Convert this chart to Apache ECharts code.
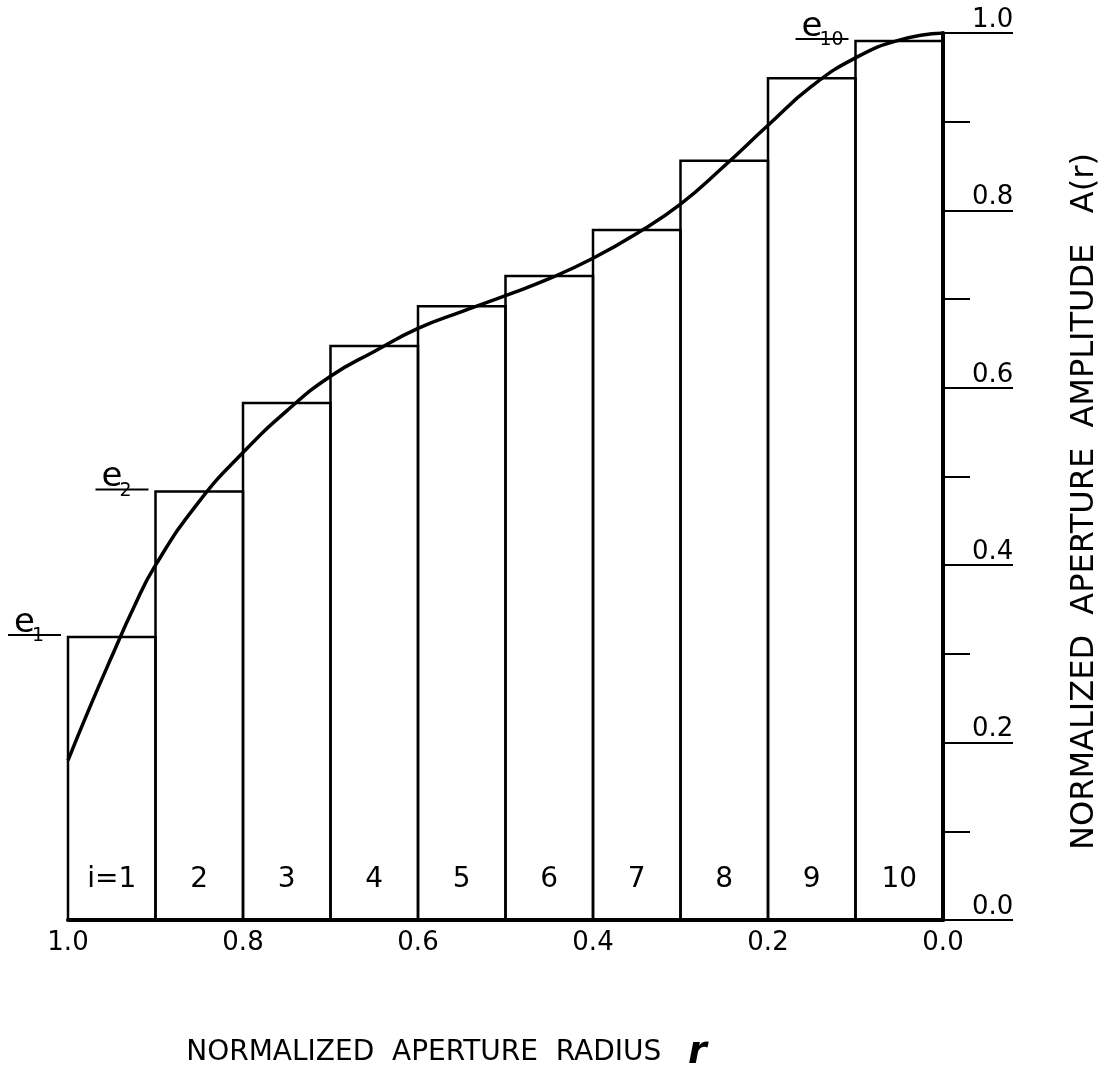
<!DOCTYPE html>
<html>
<head>
<meta charset="utf-8">
<script src="https://cdn.jsdelivr.net/npm/echarts@6/dist/echarts.min.js"></script>
<style>
  html, body { margin: 0; padding: 0; background: #fff; }
  #chart { width: 1115px; height: 1078px; }
</style>
</head>
<body>
<div id="chart"></div>
<script>
// ---- data ----
const binStart = [1.0, 0.9, 0.8, 0.7, 0.6, 0.5, 0.4, 0.3, 0.2, 0.1];
const binEnd   = [0.9, 0.8, 0.7, 0.6, 0.5, 0.4, 0.3, 0.2, 0.1, 0.0];
const stepHeights = [0.319, 0.483, 0.583, 0.647, 0.692, 0.726, 0.778, 0.856, 0.949, 0.991];
const binLabels = ['i=1', '2', '3', '4', '5', '6', '7', '8', '9', '10'];

const curveR = [1.000, 0.975, 0.950, 0.925, 0.900, 0.850, 0.800, 0.750, 0.700, 0.650,
                0.600, 0.550, 0.500, 0.450, 0.400, 0.350, 0.300, 0.250, 0.200, 0.150,
                0.100, 0.050, 0.000];
const curveA = [0.180, 0.240, 0.297, 0.352, 0.400, 0.472, 0.527, 0.574, 0.613, 0.641,
                0.667, 0.686, 0.704, 0.723, 0.746, 0.774, 0.807, 0.850, 0.896, 0.940,
                0.972, 0.992, 1.000];

const eBins = [0, 1, 9];
const eSubs = ['1', '2', '10'];

const xTickValues = [1.0, 0.8, 0.6, 0.4, 0.2, 0.0];
const yTickValues = [0.0, 0.2, 0.4, 0.6, 0.8, 1.0];

const xTitle = 'NORMALIZED  APERTURE  RADIUS   {r|r}';
const yTitle = 'NORMALIZED  APERTURE  AMPLITUDE   A(r)';

// ---- chart ----
const FONT = 'DejaVu Sans';
const chart = echarts.init(document.getElementById('chart'), null, { renderer: 'canvas' });

const barData = binStart.map((s, i) => [s, binEnd[i], stepHeights[i], i]);
const eData = eBins.map((b, k) => [binStart[b], stepHeights[b], k]);
const curveData = curveR.map((r, i) => [r, curveA[i]]);

const option = {
  backgroundColor: '#ffffff',
  animation: false,
  grid: { left: 68, right: 172, top: 33, bottom: 158, containLabel: false },
  xAxis: {
    type: 'value', inverse: true, min: 0, max: 1, interval: 0.2,
    axisLine: { show: true, onZero: false, lineStyle: { color: '#000', width: 4 } },
    axisTick: { show: false },
    splitLine: { show: false },
    axisLabel: {
      color: '#000', fontFamily: FONT, fontSize: 26, margin: 10,
      formatter: v => {
        const hit = xTickValues.find(t => Math.abs(t - v) < 1e-6);
        return hit === undefined ? '' : hit.toFixed(1);
      }
    },
    name: xTitle,
    nameLocation: 'middle',
    nameGap: 114,
    nameTextStyle: {
      color: '#000', fontFamily: FONT, fontSize: 28,
      padding: [0, 118, 0, 0],
      rich: { r: { fontFamily: FONT, fontSize: 38, fontWeight: 'bold', fontStyle: 'italic', color: '#000' } }
    }
  },
  yAxis: {
    type: 'value', position: 'right', min: 0, max: 1, interval: 0.2,
    axisLine: { show: true, lineStyle: { color: '#000', width: 4 } },
    axisTick: { show: true, inside: false, length: 70, lineStyle: { color: '#000', width: 2 } },
    minorTick: { show: true, splitNumber: 2, length: 27, lineStyle: { color: '#000', width: 2 } },
    splitLine: { show: false },
    axisLabel: {
      color: '#000', fontFamily: FONT, fontSize: 26, margin: 29,
      align: 'left', verticalAlign: 'bottom',
      formatter: v => {
        const hit = yTickValues.find(t => Math.abs(t - v) < 1e-6);
        return hit === undefined ? '' : hit.toFixed(1);
      }
    },
    name: yTitle,
    nameLocation: 'middle',
    nameRotate: 90,
    nameGap: 126,
    nameTextStyle: { color: '#000', fontFamily: FONT, fontSize: 32, padding: [0, 50, 0, 0] }
  },
  series: [
    {
      type: 'custom',
      name: 'steps',
      data: barData,
      encode: { x: [0, 1], y: 2 },
      z: 2,
      renderItem: (params, api) => {
        const pBase = api.coord([api.value(0), 0]);
        const pTop = api.coord([api.value(1), api.value(2)]);
        const x = Math.min(pBase[0], pTop[0]);
        const w = Math.abs(pTop[0] - pBase[0]);
        const idx = api.value(3);
        return {
          type: 'group',
          children: [
            {
              type: 'rect',
              shape: { x: x, y: pTop[1], width: w, height: pBase[1] - pTop[1] },
              style: { fill: 'none', stroke: '#000', lineWidth: 2.5 }
            },
            {
              type: 'text',
              x: x + w / 2, y: pBase[1] - 40,
              style: {
                text: binLabels[idx], fill: '#000', fontFamily: FONT, fontSize: 28,
                align: 'center', verticalAlign: 'middle'
              }
            }
          ]
        };
      }
    },
    {
      type: 'custom',
      name: 'eLabels',
      data: eData,
      encode: { x: 0, y: 1 },
      z: 3,
      renderItem: (params, api) => {
        const p = api.coord([api.value(0), api.value(1)]);
        const k = api.value(2);
        const x0 = p[0] - 60, x1 = p[0] - 7, y = p[1] - 2;
        return {
          type: 'group',
          children: [
            { type: 'line', shape: { x1: x0, y1: y, x2: x1, y2: y }, style: { stroke: '#000', lineWidth: 2 } },
            {
              type: 'text', x: x0 + 6, y: y + 5,
              style: { text: 'e', fill: '#000', fontFamily: FONT, fontSize: 34, align: 'left', verticalAlign: 'bottom' }
            },
            {
              type: 'text', x: x0 + 24, y: y + 1,
              style: { text: eSubs[k], fill: '#000', fontFamily: FONT, fontSize: 19, align: 'left', verticalAlign: 'middle' }
            }
          ]
        };
      }
    },
    {
      type: 'line',
      name: 'A(r)',
      data: curveData,
      smooth: 0.5,
      showSymbol: false,
      symbol: 'none',
      z: 4,
      lineStyle: { color: '#000', width: 3.5 }
    }
  ]
};
chart.setOption(option);
</script>
</body>
</html>
